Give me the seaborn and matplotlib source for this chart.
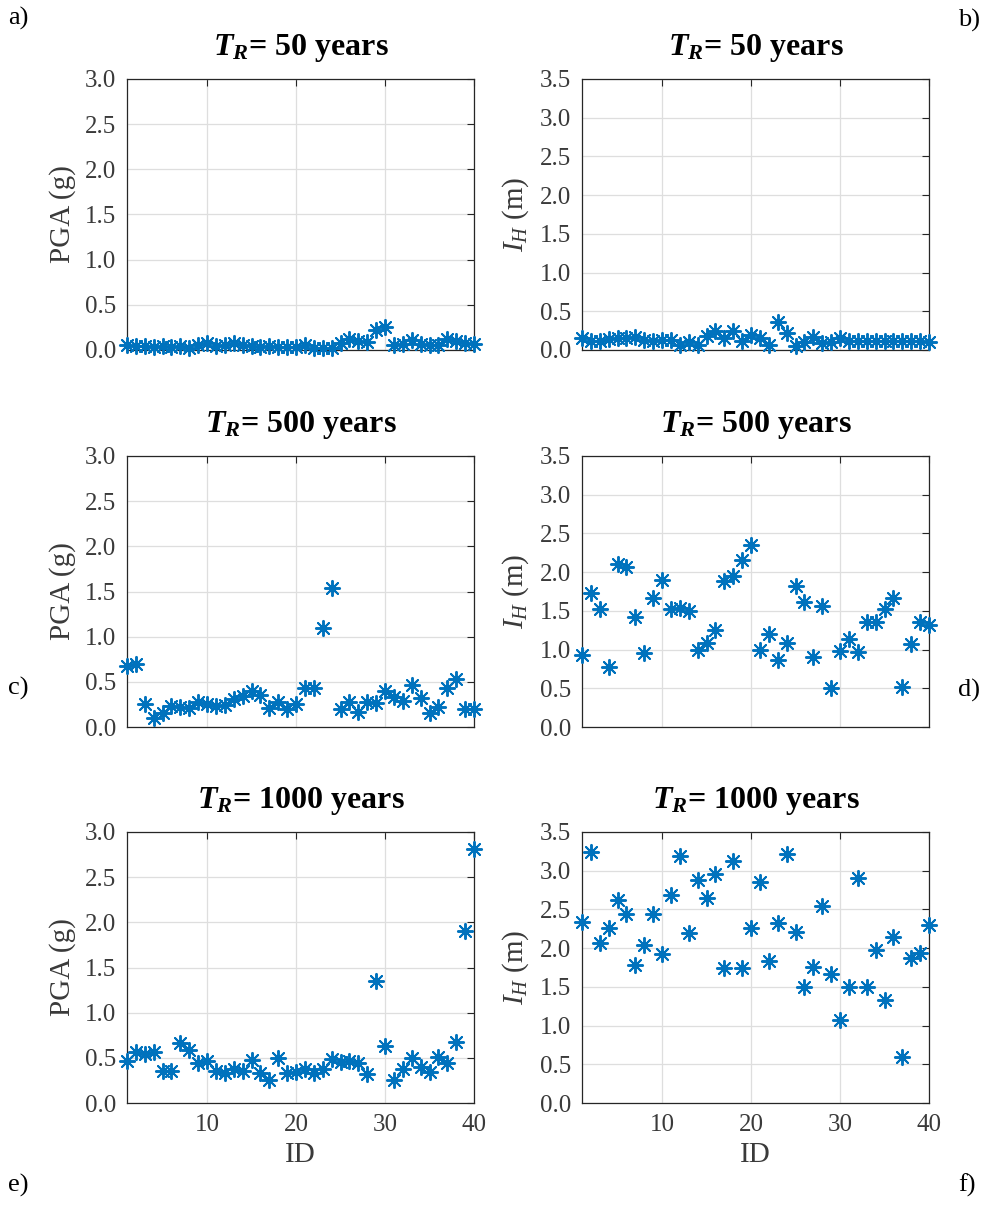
import matplotlib
matplotlib.use('Agg')
import matplotlib.pyplot as plt
import seaborn as sns

# ID of each site (1..40)
ids = list(range(1, 41))

# PGA (g) and I_H (m) for the three return periods
pga_50 = [0.06, 0.04, 0.04, 0.03, 0.04, 0.03, 0.04, 0.02, 0.05, 0.08,
          0.04, 0.05, 0.08, 0.06, 0.04, 0.03, 0.04, 0.03, 0.03, 0.03,
          0.06, 0.02, 0.02, 0.02, 0.08, 0.12, 0.10, 0.09, 0.22, 0.25,
          0.06, 0.07, 0.11, 0.07, 0.06, 0.05, 0.12, 0.10, 0.08, 0.07]
ih_50 = [0.15, 0.12, 0.12, 0.14, 0.15, 0.15, 0.17, 0.13, 0.12, 0.13,
         0.13, 0.07, 0.10, 0.07, 0.18, 0.24, 0.15, 0.24, 0.12, 0.19,
         0.15, 0.07, 0.36, 0.22, 0.05, 0.10, 0.17, 0.09, 0.10, 0.15,
         0.12, 0.12, 0.11, 0.12, 0.12, 0.11, 0.12, 0.12, 0.11, 0.10]
pga_500 = [0.67, 0.70, 0.26, 0.10, 0.16, 0.23, 0.22, 0.21, 0.28, 0.26,
           0.23, 0.24, 0.31, 0.34, 0.40, 0.35, 0.21, 0.28, 0.20, 0.25,
           0.43, 0.43, 1.10, 1.54, 0.20, 0.28, 0.17, 0.28, 0.27, 0.40,
           0.33, 0.29, 0.47, 0.32, 0.15, 0.22, 0.43, 0.53, 0.20, 0.20]
ih_500 = [0.93, 1.73, 1.52, 0.77, 2.11, 2.06, 1.42, 0.96, 1.67, 1.90,
          1.53, 1.54, 1.50, 1.00, 1.09, 1.25, 1.89, 1.95, 2.16, 2.35,
          1.00, 1.20, 0.87, 1.08, 1.82, 1.61, 0.90, 1.56, 0.51, 0.98,
          1.14, 0.97, 1.35, 1.35, 1.53, 1.66, 0.52, 1.07, 1.35, 1.32]
pga_1000 = [0.47, 0.57, 0.54, 0.56, 0.35, 0.35, 0.66, 0.59, 0.44, 0.47,
            0.35, 0.33, 0.38, 0.35, 0.48, 0.33, 0.26, 0.50, 0.33, 0.34,
            0.38, 0.33, 0.38, 0.49, 0.45, 0.46, 0.44, 0.32, 1.35, 0.63,
            0.26, 0.38, 0.50, 0.40, 0.34, 0.51, 0.44, 0.68, 1.90, 2.81]
ih_1000 = [2.34, 3.24, 2.07, 2.26, 2.62, 2.44, 1.78, 2.04, 2.44, 1.92,
           2.68, 3.19, 2.20, 2.88, 2.65, 2.96, 1.75, 3.13, 1.74, 2.26,
           2.86, 1.84, 2.33, 3.22, 2.21, 1.50, 1.76, 2.54, 1.66, 1.07,
           1.50, 2.90, 1.50, 1.97, 1.33, 2.14, 0.59, 1.87, 1.94, 2.30]

periods = ['50', '500', '1000']
letters = ['a)', 'b)', 'c)', 'd)', 'e)', 'f)']

sns.set_theme(style='white')
plt.rcParams['font.family'] = ['Liberation Serif', 'DejaVu Serif']
plt.rcParams['mathtext.fontset'] = 'custom'
plt.rcParams['mathtext.rm'] = 'Liberation Serif'
plt.rcParams['mathtext.it'] = 'Liberation Serif:italic'
plt.rcParams['mathtext.bf'] = 'Liberation Serif:bold'
plt.rcParams['mathtext.bfit'] = 'Liberation Serif:italic:bold'

W, H = 997, 1214
fig = plt.figure(figsize=(W / 100, H / 100), dpi=100)

blue = '#0072BD'
txt = '#3a3a3a'
lefts = [127, 582]
tops = [79, 456, 832]
aw, ah = 347, 271

series = [[pga_50, ih_50], [pga_500, ih_500], [pga_1000, ih_1000]]

for r in range(3):
    for c in range(2):
        ax = fig.add_axes([lefts[c] / W, 1 - (tops[r] + ah) / H, aw / W, ah / H])
        vals = series[r][c]
        sns.scatterplot(x=ids, y=vals, marker=(8, 2, 0), s=120, color=blue,
                        linewidth=1.4, ax=ax, legend=False, clip_on=False,
                        zorder=3)
        ax.set_xlim(1, 40)
        ymax = 3.0 if c == 0 else 3.5
        ax.set_ylim(0, ymax)
        ax.set_xticks([10, 20, 30, 40])
        yt = [i * 0.5 for i in range(int(ymax / 0.5) + 1)]
        ax.set_yticks(yt)
        ax.set_yticklabels([f'{v:.1f}' for v in yt])
        ax.grid(True, color='#dedede', linewidth=0.9)
        ax.set_axisbelow(True)
        for sp in ax.spines.values():
            sp.set_color('#262626')
            sp.set_linewidth(0.9)
        ax.tick_params(direction='in', top=True, right=True, length=5,
                       width=0.8, color='#262626', labelsize=18,
                       labelcolor=txt, pad=8)
        if r < 2:
            ax.tick_params(labelbottom=False)
        else:
            ax.set_xlabel('ID', fontsize=21, color=txt, labelpad=4)
        if c == 0:
            ax.set_ylabel('PGA (g)', fontsize=21, color=txt, labelpad=6)
        else:
            ax.set_ylabel(r'$\mathit{I}_{\mathit{H}}$ (m)', fontsize=21,
                          color=txt, labelpad=6)
        ax.set_title(r'$\mathbfit{T}_{\mathbfit{R}}$= ' + periods[r] + ' years',
                     fontsize=23, fontweight='bold', pad=17, color='black')

# panel letters
pos = [(8, 18), (958, 20), (8, 688), (958, 690), (8, 1185), (958, 1185)]
for (px, py), lab in zip(pos, letters):
    fig.text(px / W, 1 - py / H, lab, fontsize=19, va='center', ha='left',
             color='black')

fig.savefig('out.png', dpi=100)
